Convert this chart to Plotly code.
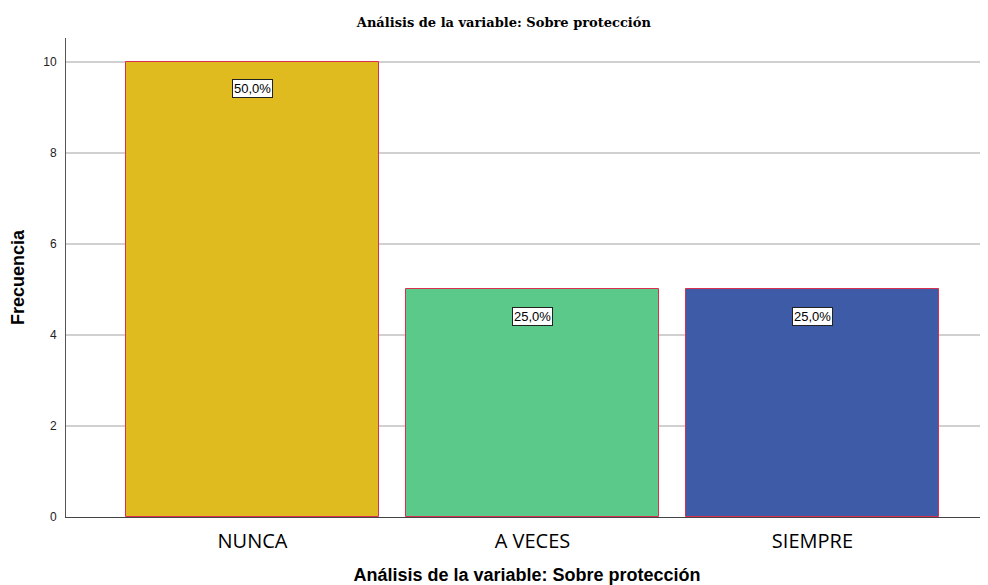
import plotly.graph_objects as go

categories = ["NUNCA", "A VECES", "SIEMPRE"]
frequencies = [10, 5, 5]
percent_labels = ["50,0%", "25,0%", "25,0%"]
bar_colors = ["#E0BB1F", "#5BC98A", "#3E5BA8"]
y_ticks = [0, 2, 4, 6, 8, 10]

x_pos = list(range(len(categories)))

fig = go.Figure()
fig.add_trace(go.Bar(
    x=x_pos, y=frequencies, width=0.904,
    marker=dict(color=bar_colors, line=dict(color="#D9304F", width=1)),
    hoverinfo="skip", showlegend=False,
))

for xi, yi, lab in zip(x_pos, frequencies, percent_labels):
    fig.add_annotation(
        x=xi, y=yi, yref="y", xref="x", text=lab, showarrow=False,
        yshift=-27, font=dict(family="Liberation Sans, Arial", size=13, color="black"),
        bgcolor="white", bordercolor="#222222", borderwidth=1, borderpad=1,
    )

fig.update_layout(
    width=980, height=577,
    margin=dict(l=58, r=0, t=30, b=68),
    paper_bgcolor="white", plot_bgcolor="white",
    title=dict(text="<b>Análisis de la variable: Sobre protección</b>",
               x=0.506, xanchor="center", y=0.975, yanchor="middle",
               font=dict(family="DejaVu Serif, Liberation Serif, serif", size=13, color="black")),
    bargap=0,
)

fig.update_xaxes(
    range=[-0.666, 2.627], tickvals=x_pos, ticktext=categories,
    tickfont=dict(family="Open Sans, Noto Sans, Liberation Sans", size=20, color="black"),
    showgrid=False, zeroline=False, showline=True, linecolor="#444444", linewidth=1,
    ticks="", ticklabelstandoff=6,
    title=dict(text="<b>Análisis de la variable: Sobre protección</b>", standoff=18,
               font=dict(family="Liberation Sans, Arial", size=18, color="black")),
)
fig.update_yaxes(
    range=[0, 10.52], tickvals=y_ticks,
    tickfont=dict(family="Liberation Sans, Arial", size=12, color="#222222"),
    showgrid=True, gridcolor="#D0D0D0", gridwidth=1.5,
    zeroline=False, showline=True, linecolor="#555555", linewidth=1,
    ticks="", ticklabelstandoff=6,
    title=dict(text="<b>Frecuencia</b>", standoff=16,
               font=dict(family="Liberation Sans, Arial", size=18, color="black")),
)

fig.write_html("out.html")
